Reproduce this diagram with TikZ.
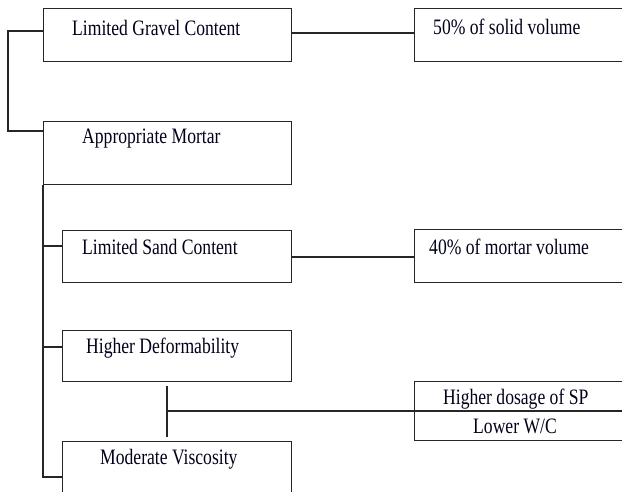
\documentclass[tikz,border=0pt]{standalone}
\usepackage{fontspec}
\setmainfont{Liberation Serif}[FakeStretch=0.8]
\begin{document}
\begin{tikzpicture}[x=1pt,y=-1pt,
  box/.style={draw=black!85, line width=1.4pt, inner sep=0pt, anchor=north west},
  conn/.style={draw=black!85, line width=1.4pt},
  lbl/.style={anchor=base west, inner sep=0pt, text=black!90!blue, font=\fontsize{22}{24}\selectfont}]
\useasboundingbox (0,0) rectangle (622,491);
\clip (0,0) rectangle (622,491);
% boxes
\node[box, minimum width=248pt, minimum height=53pt] (g)   at (43,8)   {};
\node[box, minimum width=220pt, minimum height=53pt] (s50) at (414,8)  {};
\node[box, minimum width=248pt, minimum height=63pt] (m)   at (43,121) {};
\node[box, minimum width=229pt, minimum height=52pt] (lsc) at (62,230) {};
\node[box, minimum width=220pt, minimum height=53pt] (s40) at (414,229){};
\node[box, minimum width=229pt, minimum height=51pt] (hd)  at (62,330) {};
\node[box, minimum width=220pt, minimum height=59pt] (sp)  at (414,381){};
\node[box, minimum width=229pt, minimum height=70pt] (mv)  at (62,441) {};
% labels
\node[lbl] (tg)   at (72,35)   {Limited Gravel Content};
\node[lbl] (t50)  at (433,34)  {50\% of solid volume};
\node[lbl] (tm)   at (82,143)  {Appropriate Mortar};
\node[lbl] (tlsc) at (82,254)  {Limited Sand Content};
\node[lbl] (t40)  at (429,254) {40\% of mortar volume};
\node[lbl] (thd)  at (86,353)  {Higher Deformability};
\node[lbl] (tsp)  at (443,404) {Higher dosage of SP};
\node[lbl] (twc)  at (473,433) {Lower W/C};
\node[lbl] (tmv)  at (100,464) {Moderate Viscosity};
% connectors
\coordinate (b1) at (8,31);
\coordinate (b2) at (8,131);
\draw[conn] (g.west|-b1) -- (b1) -- (b2) -- (m.west|-b2);
\coordinate (tend) at (43,477);
\draw[conn] (m.south west) -- (tend) -- (mv.west|-tend);
\draw[conn] (m.west|-0,246) -- (lsc.west|-0,246);
\draw[conn] (m.west|-0,347) -- (hd.west|-0,347);
\draw[conn] (g.east|-0,33) -- (s50.west|-0,33);
\draw[conn] (lsc.east|-0,257) -- (s40.west|-0,257);
\coordinate (jt) at (167,386);
\coordinate (jb) at (167,437);
\coordinate (j) at (167,411);
\draw[conn] (jt) -- (jb);
\draw[conn] (j) -- (sp.east|-j);
\end{tikzpicture}
\end{document}
